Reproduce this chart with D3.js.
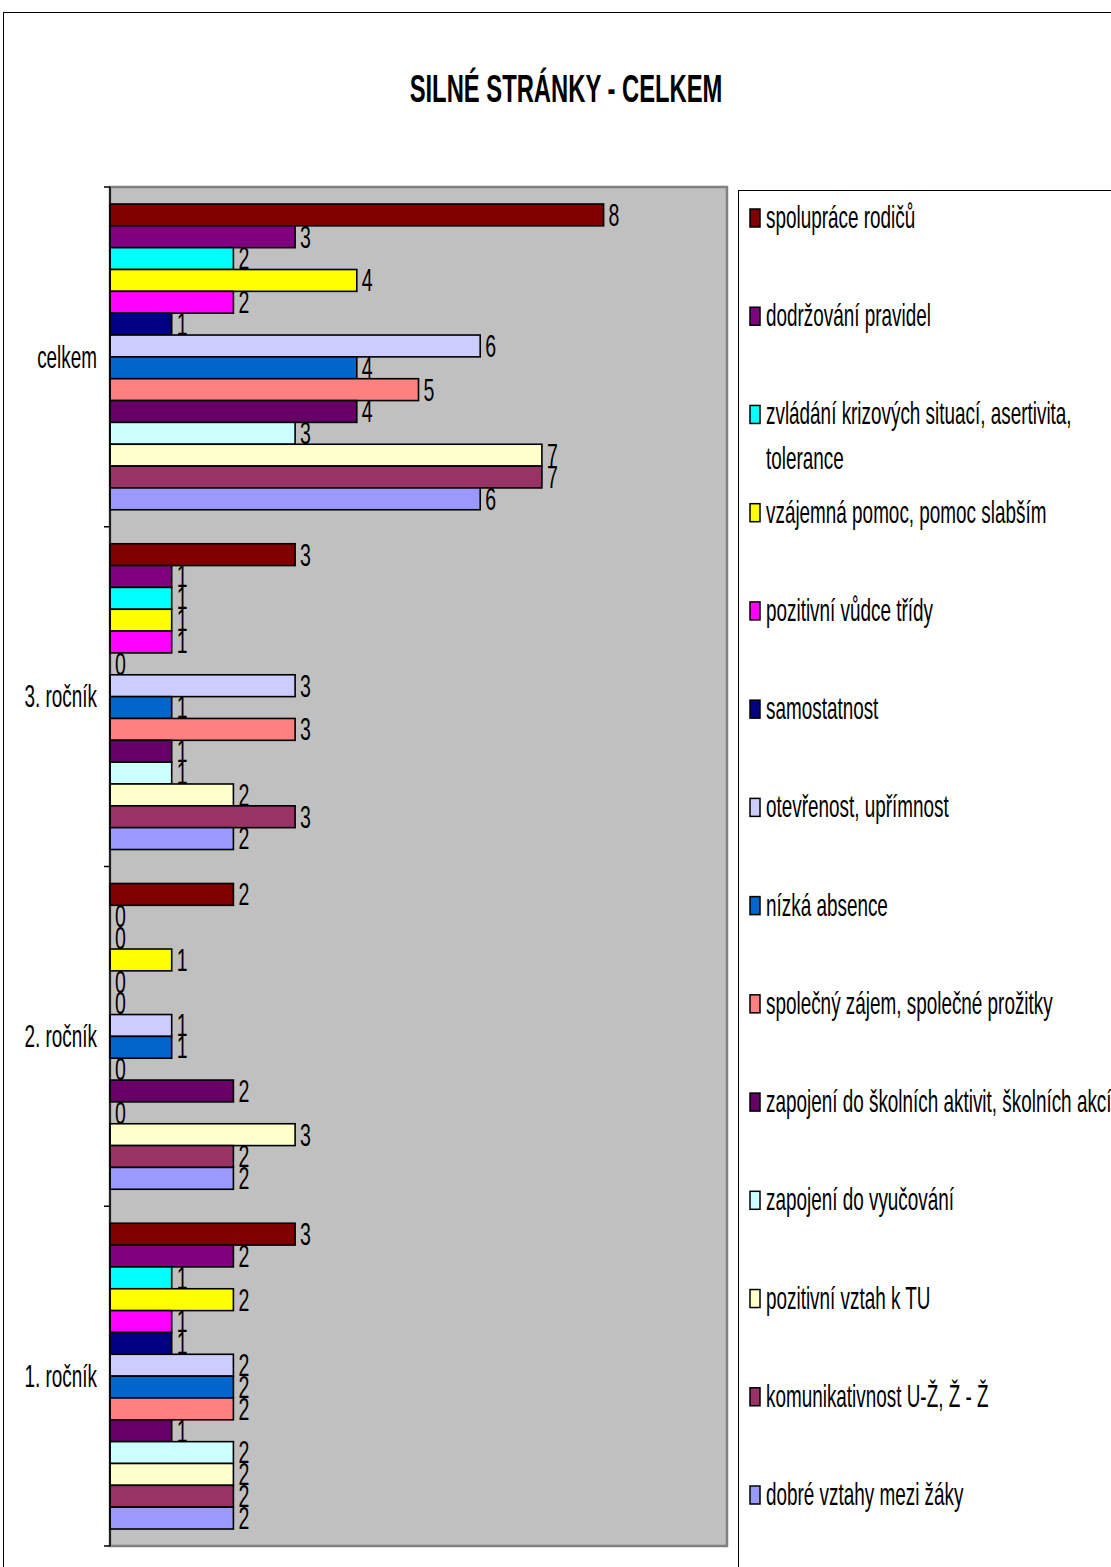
<!DOCTYPE html>
<html>
<head>
<meta charset="utf-8">
<script src="https://cdn.jsdelivr.net/npm/d3@7"></script>
<style>
    body { margin: 0; background: #fff; }
    svg { display: block; }
    text { font-family: "Liberation Sans", Arial, sans-serif; fill: #000; }
</style>
</head>
<body>
<svg id="chart" width="1111" height="1567"></svg>
<script>
// Categories, top to bottom
const categories = ['celkem', '3. ročník', '2. ročník', '1. ročník'];

// Series (legend order)
const seriesNames = [
    'spolupráce rodičů',
    'dodržování pravidel',
    'zvládání krizových situací, asertivita,|tolerance',
    'vzájemná pomoc, pomoc slabším',
    'pozitivní vůdce třídy',
    'samostatnost',
    'otevřenost, upřímnost',
    'nízká absence',
    'společný zájem, společné prožitky',
    'zapojení do školních aktivit, školních akcí',
    'zapojení do vyučování',
    'pozitivní vztah k TU',
    'komunikativnost U-Ž, Ž - Ž',
    'dobré vztahy mezi žáky'
];

const seriesColors = [
    '#800000', '#800080', '#00FFFF', '#FFFF00', '#FF00FF', '#000080', '#CCCCFF',
    '#0066CC', '#FF8080', '#660066', '#CCFFFF', '#FFFFCC', '#993366', '#9999FF'
];

// Values per category, in series order
const valuesCelkem = [8, 3, 2, 4, 2, 1, 6, 4, 5, 4, 3, 7, 7, 6];
const values3 = [3, 1, 1, 1, 1, 0, 3, 1, 3, 1, 1, 2, 3, 2];
const values2 = [2, 0, 0, 1, 0, 0, 1, 1, 0, 2, 0, 3, 2, 2];
const values1 = [3, 2, 1, 2, 1, 1, 2, 2, 2, 1, 2, 2, 2, 2];

const xTicks = [0, 10];

const allValues = [valuesCelkem, values3, values2, values1];
const rows = [];
categories.forEach((cat, ci) => {
    seriesNames.forEach((s, si) => {
        rows.push({ cat: cat, series: si, value: allValues[ci][si] });
    });
});

// Text in the original is horizontally condensed
const squeeze = 0.61;
function place(sel, x, y) {
    return sel.attr('transform', `translate(${x},${y}) scale(${squeeze},1)`);
}

const svg = d3.select('#chart');
const plot = { left: 110, right: 727, top: 187, bottom: 1546 };

// Outer chart border
svg.append('rect')
    .attr('x', 3.5).attr('y', 12.5)
    .attr('width', 1200).attr('height', 1700)
    .attr('fill', '#fff')
    .attr('stroke', '#000')
    .attr('stroke-width', 1);

// Title
place(svg.append('text'), 566, 102)
    .attr('text-anchor', 'middle')
    .style('font-size', '39px')
    .style('font-weight', 'bold')
    .text('SILNÉ STRÁNKY - CELKEM');

// Scales
const xScale = d3.scaleLinear().domain(d3.extent(xTicks)).range([plot.left, plot.right]);
const yGroup = d3.scaleBand()
    .domain(categories)
    .range([plot.top, plot.bottom])
    .paddingInner(0.1)
    .paddingOuter(0.05);
const ySeries = d3.scaleBand()
    .domain(d3.range(seriesNames.length))
    .range([0, yGroup.bandwidth()]);

// Plot area
svg.append('rect')
    .attr('x', plot.left).attr('y', plot.top)
    .attr('width', plot.right - plot.left)
    .attr('height', plot.bottom - plot.top)
    .attr('fill', '#C0C0C0')
    .attr('stroke', '#808080')
    .attr('stroke-width', 2.5);

// Bars
svg.append('g').selectAll('rect')
    .data(rows)
    .join('rect')
    .attr('x', xScale(0))
    .attr('y', d => yGroup(d.cat) + ySeries(d.series))
    .attr('width', d => xScale(d.value) - xScale(0))
    .attr('height', ySeries.bandwidth())
    .attr('fill', d => seriesColors[d.series])
    .attr('stroke', '#000')
    .attr('stroke-width', 1.6);

// Value labels
const labels = svg.append('g').selectAll('text')
    .data(rows)
    .join('text')
    .attr('dominant-baseline', 'central')
    .style('font-size', '32px')
    .text(d => d.value);
labels.each(function (d) {
    place(d3.select(this), xScale(d.value) + 5, yGroup(d.cat) + ySeries(d.series) + ySeries.bandwidth() / 2);
});

// Category axis
const step = yGroup.step();
const tickYs = d3.range(categories.length + 1).map(i => plot.top + i * step);
svg.append('line')
    .attr('x1', plot.left).attr('x2', plot.left)
    .attr('y1', plot.top).attr('y2', plot.bottom)
    .attr('stroke', '#000').attr('stroke-width', 1.5);
svg.append('g').selectAll('line')
    .data(tickYs)
    .join('line')
    .attr('x1', plot.left - 6).attr('x2', plot.left)
    .attr('y1', d => d).attr('y2', d => d)
    .attr('stroke', '#000').attr('stroke-width', 1.5);

categories.forEach(cat => {
    place(svg.append('text'), 97, yGroup(cat) + yGroup.bandwidth() / 2)
        .attr('text-anchor', 'end')
        .attr('dominant-baseline', 'central')
        .style('font-size', '31px')
        .text(cat);
});

// Legend
const legend = { left: 738, top: 190 };
svg.append('rect')
    .attr('x', legend.left + 0.5).attr('y', legend.top + 0.5)
    .attr('width', 500).attr('height', 1500)
    .attr('fill', '#fff')
    .attr('stroke', '#000')
    .attr('stroke-width', 1);

const legendY = d3.scaleLinear().domain([0, seriesNames.length - 1]).range([218, 1495]);
seriesNames.forEach((name, i) => {
    const cy = legendY(i);
    svg.append('rect')
        .attr('x', 750).attr('y', cy - 9)
        .attr('width', 10).attr('height', 18)
        .attr('fill', seriesColors[i])
        .attr('stroke', '#000')
        .attr('stroke-width', 1.5);
    name.split('|').forEach((line, li) => {
        place(svg.append('text'), 766, cy + 10 + li * 45)
            .style('font-size', '31px')
            .text(line);
    });
});
</script>
</body>
</html>
